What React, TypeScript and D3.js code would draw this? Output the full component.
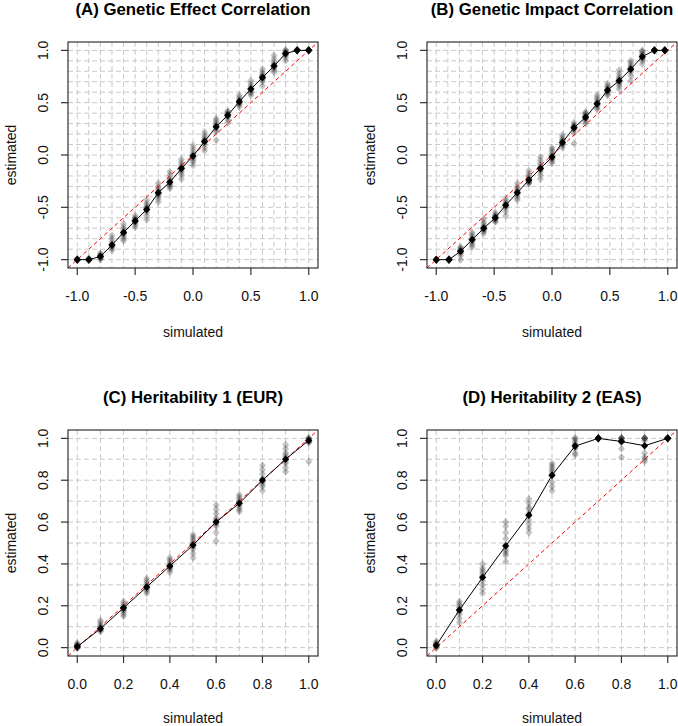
import React from "react";
import * as d3 from "d3";

// ---------- data ----------
const titles = [
  "(A) Genetic Effect Correlation",
  "(B) Genetic Impact Correlation",
  "(C) Heritability 1 (EUR)",
  "(D) Heritability 2 (EAS)",
];

const corrTicks = [-1.0, -0.5, 0.0, 0.5, 1.0];
const herTicks = [0.0, 0.2, 0.4, 0.6, 0.8, 1.0];

const simA = [-1, -0.9, -0.8, -0.7, -0.6, -0.5, -0.4, -0.3, -0.2, -0.1, 0, 0.1, 0.2, 0.3, 0.4, 0.5, 0.6, 0.7, 0.8, 0.9, 1.0];
const meanA = [-1, -1, -0.97, -0.86, -0.74, -0.63, -0.52, -0.36, -0.26, -0.13, -0.01, 0.13, 0.27, 0.38, 0.51, 0.63, 0.74, 0.85, 0.97, 1.0, 1.0];
const repA = [
  [-1, -1, -1, -1, -1, -1, -0.99, -1, -1, -1],
  [-1, -1, -1, -0.99, -1, -1, -1, -0.99, -1, -1],
  [-0.94, -0.96, -0.97, -0.98, -0.99, -1, -0.97, -0.96, -0.95, -0.98],
  [-0.77, -0.8, -0.83, -0.85, -0.86, -0.87, -0.88, -0.89, -0.91, -0.86],
  [-0.66, -0.69, -0.71, -0.73, -0.74, -0.75, -0.76, -0.78, -0.8, -0.82],
  [-0.58, -0.6, -0.61, -0.62, -0.63, -0.63, -0.64, -0.65, -0.67, -0.69],
  [-0.43, -0.46, -0.48, -0.5, -0.51, -0.52, -0.53, -0.55, -0.58, -0.62],
  [-0.27, -0.3, -0.32, -0.34, -0.36, -0.37, -0.38, -0.4, -0.42, -0.45],
  [-0.16, -0.19, -0.22, -0.24, -0.25, -0.26, -0.28, -0.29, -0.3, -0.32],
  [-0.04, -0.07, -0.09, -0.11, -0.12, -0.13, -0.15, -0.17, -0.19, -0.23],
  [0.09, 0.06, 0.03, 0.01, -0.01, -0.02, -0.03, -0.05, -0.07, -0.1],
  [0.22, 0.19, 0.17, 0.15, 0.14, 0.13, 0.12, 0.1, 0.07, 0.04],
  [0.35, 0.33, 0.31, 0.29, 0.28, 0.27, 0.26, 0.24, 0.22, 0.14],
  [0.42, 0.41, 0.4, 0.39, 0.38, 0.38, 0.37, 0.36, 0.34, 0.31],
  [0.57, 0.55, 0.53, 0.52, 0.51, 0.51, 0.5, 0.49, 0.48, 0.46],
  [0.71, 0.68, 0.66, 0.64, 0.63, 0.63, 0.62, 0.6, 0.59, 0.57],
  [0.82, 0.79, 0.77, 0.76, 0.75, 0.74, 0.73, 0.72, 0.7, 0.66],
  [0.95, 0.92, 0.89, 0.87, 0.86, 0.85, 0.84, 0.83, 0.81, 0.79],
  [1.0, 1.0, 0.99, 0.98, 0.97, 0.97, 0.96, 0.95, 0.93, 0.9],
  [1, 1, 1, 1, 1, 1, 1, 1, 1, 1],
  [1, 1, 1, 1, 1, 1, 1, 1, 1, 1],
];

const simB = [-1, -0.89, -0.79, -0.69, -0.59, -0.49, -0.4, -0.3, -0.2, -0.1, 0, 0.09, 0.19, 0.29, 0.39, 0.48, 0.58, 0.68, 0.78, 0.885, 0.975];
const meanB = [-1, -1, -0.92, -0.81, -0.7, -0.6, -0.48, -0.36, -0.24, -0.13, -0.02, 0.12, 0.26, 0.36, 0.49, 0.62, 0.71, 0.82, 0.94, 1.0, 1.0];
const repB = [
  [-1, -1, -1, -1, -1, -1, -1, -1, -1, -1],
  [-1, -1, -1, -1, -0.99, -1, -1, -1, -1, -1],
  [-0.88, -0.89, -0.9, -0.91, -0.92, -0.92, -0.93, -0.94, -0.96, -1.0],
  [-0.74, -0.76, -0.78, -0.8, -0.81, -0.81, -0.82, -0.84, -0.86, -0.88],
  [-0.61, -0.64, -0.66, -0.68, -0.69, -0.7, -0.71, -0.72, -0.73, -0.75],
  [-0.55, -0.57, -0.58, -0.59, -0.6, -0.6, -0.61, -0.62, -0.63, -0.64],
  [-0.42, -0.44, -0.46, -0.47, -0.48, -0.48, -0.49, -0.51, -0.54, -0.58],
  [-0.27, -0.3, -0.32, -0.34, -0.35, -0.36, -0.37, -0.39, -0.41, -0.43],
  [-0.15, -0.18, -0.2, -0.22, -0.23, -0.24, -0.25, -0.26, -0.27, -0.27],
  [-0.02, -0.05, -0.08, -0.1, -0.12, -0.13, -0.14, -0.16, -0.19, -0.23],
  [0.07, 0.05, 0.03, 0.01, -0.01, -0.02, -0.03, -0.04, -0.06, -0.08],
  [0.19, 0.17, 0.15, 0.14, 0.13, 0.12, 0.11, 0.1, 0.09, 0.07],
  [0.31, 0.29, 0.28, 0.27, 0.26, 0.26, 0.25, 0.24, 0.21, 0.11],
  [0.41, 0.4, 0.39, 0.38, 0.37, 0.36, 0.35, 0.34, 0.32, 0.3],
  [0.57, 0.55, 0.53, 0.51, 0.5, 0.49, 0.48, 0.47, 0.45, 0.44],
  [0.68, 0.66, 0.65, 0.63, 0.62, 0.62, 0.61, 0.6, 0.58, 0.57],
  [0.81, 0.78, 0.75, 0.73, 0.72, 0.71, 0.7, 0.68, 0.66, 0.63],
  [0.9, 0.88, 0.86, 0.84, 0.83, 0.82, 0.81, 0.79, 0.76, 0.71],
  [1.0, 0.99, 0.98, 0.96, 0.95, 0.94, 0.93, 0.92, 0.9, 0.87],
  [1, 1, 1, 1, 1, 1, 1, 1, 1, 1],
  [1, 1, 1, 1, 1, 1, 1, 1, 1, 1],
];

const simH = [0, 0.1, 0.2, 0.3, 0.4, 0.5, 0.6, 0.7, 0.8, 0.9, 1.0];
const meanC = [0.005, 0.09, 0.19, 0.29, 0.39, 0.49, 0.6, 0.69, 0.8, 0.9, 0.99];
const repC = [
  [0.02, 0.01, 0.01, 0.0, 0.0, 0.0, 0.01, 0.0, 0.02, 0.01],
  [0.13, 0.12, 0.11, 0.1, 0.09, 0.09, 0.09, 0.08, 0.08, 0.1],
  [0.22, 0.21, 0.2, 0.19, 0.19, 0.18, 0.18, 0.17, 0.16, 0.15],
  [0.33, 0.32, 0.31, 0.3, 0.29, 0.29, 0.28, 0.28, 0.27, 0.26],
  [0.43, 0.42, 0.41, 0.4, 0.39, 0.39, 0.38, 0.38, 0.37, 0.36],
  [0.54, 0.53, 0.52, 0.51, 0.5, 0.49, 0.48, 0.47, 0.45, 0.43],
  [0.68, 0.66, 0.64, 0.62, 0.61, 0.6, 0.59, 0.58, 0.55, 0.51],
  [0.73, 0.72, 0.71, 0.7, 0.69, 0.69, 0.68, 0.67, 0.66, 0.65],
  [0.87, 0.85, 0.83, 0.81, 0.8, 0.8, 0.79, 0.78, 0.77, 0.75],
  [0.97, 0.95, 0.93, 0.92, 0.91, 0.9, 0.89, 0.88, 0.86, 0.84],
  [1.0, 1.0, 1.0, 0.99, 0.99, 0.99, 0.99, 0.98, 0.98, 0.89],
];

const meanD = [0.01, 0.18, 0.335, 0.486, 0.633, 0.824, 0.963, 1.0, 0.985, 0.965, 1.0];
const repD = [
  [0.03, 0.02, 0.02, 0.01, 0.01, 0.01, 0.0, 0.0, 0.01, 0.02],
  [0.22, 0.21, 0.2, 0.19, 0.18, 0.18, 0.17, 0.16, 0.14, 0.12],
  [0.4, 0.38, 0.37, 0.36, 0.35, 0.34, 0.32, 0.3, 0.28, 0.26],
  [0.6, 0.58, 0.55, 0.52, 0.49, 0.47, 0.46, 0.45, 0.44, 0.41],
  [0.71, 0.69, 0.67, 0.66, 0.64, 0.63, 0.61, 0.59, 0.57, 0.55],
  [0.88, 0.87, 0.86, 0.85, 0.84, 0.83, 0.82, 0.79, 0.77, 0.75],
  [1.0, 1.0, 0.99, 0.98, 0.97, 0.97, 0.96, 0.95, 0.93, 0.92],
  [1, 1, 1, 1, 1, 1, 1, 1, 1, 1],
  [1.0, 1.0, 1.0, 1.0, 1.0, 0.99, 0.99, 0.98, 0.95, 0.91],
  [1.0, 1.0, 1.0, 1.0, 1.0, 0.99, 0.93, 0.91, 0.9, 0.89],
  [1, 1, 1, 1, 1, 1, 1, 1, 1, 1],
];

const corrGrid = d3.range(-10, 11).map((i) => i / 10);
const herGrid = d3.range(0, 11).map((i) => i / 10);

// ---------- layout ----------
const W = 678;
const H = 726;
const FONT = "'Liberation Sans', Arial, Helvetica, sans-serif";
const BOX = { left: 68, right: 318, top: 42, bottom: 268 };

const panels = [
  { key: "A", ox: 0, oy: 0, title: titles[0], sim: simA, mean: meanA, rep: repA, ticks: corrTicks, grid: corrGrid, dom: [-1, 1] },
  { key: "B", ox: 359, oy: 0, title: titles[1], sim: simB, mean: meanB, rep: repB, ticks: corrTicks, grid: corrGrid, dom: [-1, 1] },
  { key: "C", ox: 0, oy: 388, title: titles[2], sim: simH, mean: meanC, rep: repC, ticks: herTicks, grid: herGrid, dom: [0, 1] },
  { key: "D", ox: 359, oy: 388, title: titles[3], sim: simH, mean: meanD, rep: repD, ticks: herTicks, grid: herGrid, dom: [0, 1] },
];

const fmt = (v: number) => v.toFixed(1);

function diamond(cx: number, cy: number, rx: number, ry: number) {
  return `M${cx},${cy - ry}L${cx + rx},${cy}L${cx},${cy + ry}L${cx - rx},${cy}Z`;
}

function Panel({ p }: { p: (typeof panels)[number] }) {
  const ext = (p.dom[1] - p.dom[0]) * 0.04;
  const x = d3.scaleLinear().domain([p.dom[0] - ext, p.dom[1] + ext]).range([BOX.left, BOX.right]);
  const y = d3.scaleLinear().domain([p.dom[0] - ext, p.dom[1] + ext]).range([BOX.bottom, BOX.top]);
  const line = d3
    .line<number>()
    .x((_, i) => x(p.sim[i]))
    .y((d) => y(d));
  const clipId = `clip-${p.key}`;
  const cx = (BOX.left + BOX.right) / 2;
  const cy = (BOX.top + BOX.bottom) / 2;
  const lo = p.dom[0] - ext;
  const hi = p.dom[1] + ext;
  const bottomRow = p.oy > 0;
  return (
    <g transform={`translate(${p.ox},${p.oy})`}>
      <defs>
        <clipPath id={clipId}>
          <rect x={BOX.left} y={BOX.top} width={BOX.right - BOX.left} height={BOX.bottom - BOX.top} />
        </clipPath>
      </defs>
      {/* grid */}
      <g stroke="#c9c9c9" strokeWidth={1} strokeDasharray="5,3">
        {p.grid.map((g) => (
          <line key={`v${g}`} x1={x(g)} x2={x(g)} y1={BOX.top} y2={BOX.bottom} />
        ))}
        {p.grid.map((g) => (
          <line key={`h${g}`} x1={BOX.left} x2={BOX.right} y1={y(g)} y2={y(g)} />
        ))}
      </g>
      <g clipPath={`url(#${clipId})`}>
        {/* replicate points */}
        <g fill="rgba(40,40,40,0.27)">
          {p.rep.map((arr, i) =>
            arr.map((v, j) => <path key={`${i}-${j}`} d={diamond(x(p.sim[i]), y(v), 3.5, 4)} />)
          )}
        </g>
        {/* identity line */}
        <line x1={x(lo)} y1={y(lo)} x2={x(hi)} y2={y(hi)} stroke="#ff0000" strokeWidth={1} strokeDasharray="4,3" />
        {/* mean line */}
        <path d={line(p.mean) || ""} fill="none" stroke="#000" strokeWidth={1} />
        <g fill="#000">
          {p.mean.map((v, i) => (
            <path key={i} d={diamond(x(p.sim[i]), y(v), 3.6, 3.8)} />
          ))}
        </g>
      </g>
      {/* box */}
      <rect x={BOX.left} y={BOX.top} width={BOX.right - BOX.left} height={BOX.bottom - BOX.top} fill="none" stroke="#333" strokeWidth={1.2} />
      {/* axes ticks */}
      <g stroke="#333" strokeWidth={1.2}>
        {p.ticks.map((t) => (
          <line key={`xt${t}`} x1={x(t)} x2={x(t)} y1={BOX.bottom} y2={BOX.bottom + 7} />
        ))}
        {p.ticks.map((t) => (
          <line key={`yt${t}`} x1={BOX.left - 7} x2={BOX.left} y1={y(t)} y2={y(t)} />
        ))}
      </g>
      <g fontFamily={FONT} fontSize={14} fill="#111" textAnchor="middle">
        {p.ticks.map((t) => (
          <text key={`xl${t}`} x={x(t)} y={300.5}>
            {fmt(t)}
          </text>
        ))}
        {p.ticks.map((t) => (
          <text key={`yl${t}`} transform={`translate(48.3,${y(t)}) rotate(-90)`}>
            {fmt(t)}
          </text>
        ))}
        <text x={cx} y={bottomRow ? 334.5 : 337}>simulated</text>
        <text transform={`translate(15.5,${cy}) rotate(-90)`}>estimated</text>
      </g>
      <text x={cx} y={14.8} fontFamily={FONT} fontSize={16.8} fontWeight="bold" textAnchor="middle" fill="#000">
        {p.title}
      </text>
    </g>
  );
}

export default function App() {
  return (
    <svg
      width={W}
      height={H}
      viewBox={`0 0 ${W} ${H}`}
      style={{ position: "absolute", left: 0, top: 0, background: "#fff", display: "block" }}
    >
      <rect x={0} y={0} width={W} height={H} fill="#fff" />
      {panels.map((p) => (
        <Panel key={p.key} p={p} />
      ))}
    </svg>
  );
}
